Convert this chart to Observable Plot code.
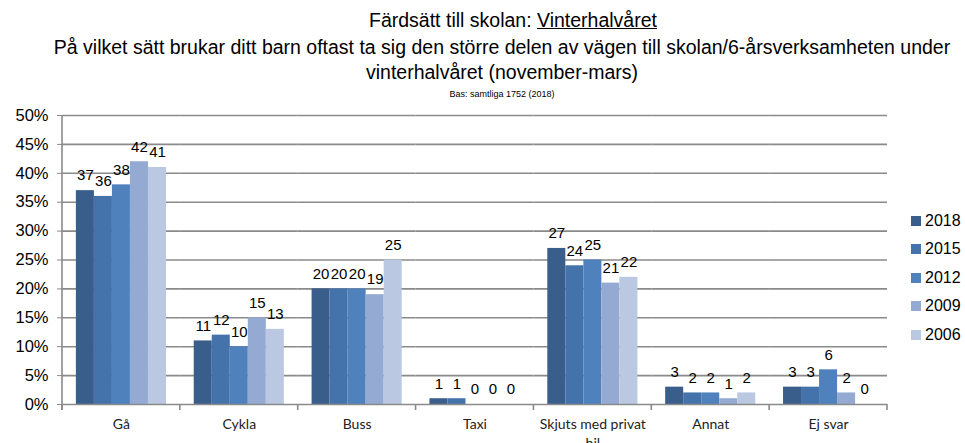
<!DOCTYPE html>
<html><head><meta charset="utf-8">
<script src="https://cdn.jsdelivr.net/npm/d3@7"></script>
<script src="https://cdn.jsdelivr.net/npm/@observablehq/plot@0.6"></script>
<style>
body{margin:0;background:#fff;}
#wrap{position:relative;width:965px;height:443px;overflow:hidden;font-family:"Liberation Sans",Arial,sans-serif;color:#000;}
.tl{position:absolute;left:0;width:1004px;text-align:center;white-space:nowrap;font-size:19.5px;}
#bas{position:absolute;left:0;width:1004px;text-align:center;font-size:9px;top:89px;}
#chart{position:absolute;left:0;top:100px;}
#legend{position:absolute;left:911px;top:212px;font-size:16px;}
#legend .row{position:absolute;left:0;white-space:nowrap;height:18px;line-height:18px;}
#legend .sw{display:inline-block;width:10px;height:10px;margin-right:4px;vertical-align:0px;}
</style></head>
<body>
<div id="wrap">
  <div class="tl" style="top:9px;padding-left:22px;box-sizing:border-box;">Färdsätt till skolan: <u>Vinterhalvåret</u></div>
  <div class="tl" style="top:36px;">På vilket sätt brukar ditt barn oftast ta sig den större delen av vägen till skolan/6-årsverksamheten under</div>
  <div class="tl" style="top:61px;">vinterhalvåret (november-mars)</div>
  <div id="bas">Bas: samtliga 1752 (2018)</div>
  <div id="chart"></div>
  <div id="legend"></div>
</div>
<script>
const categories = ["Gå", "Cykla", "Buss", "Taxi", "Skjuts med privat bil", "Annat", "Ej svar"];
const categoryLabels = ["Gå", "Cykla", "Buss", "Taxi", "Skjuts med privat\nbil", "Annat", "Ej svar"];
const years = ["2018", "2015", "2012", "2009", "2006"];
const v2018 = [37, 11, 20, 1, 27, 3, 3];
const v2015 = [36, 12, 20, 1, 24, 2, 3];
const v2012 = [38, 10, 20, 0, 25, 2, 6];
const v2009 = [42, 15, 19, 0, 21, 1, 2];
const v2006 = [41, 13, 25, 0, 22, 2, 0];
const yTicks = [0, 5, 10, 15, 20, 25, 30, 35, 40, 45, 50];
const colors = ["#3A5E8C", "#4472AA", "#4F81BD", "#94AAD3", "#BAC8E2"];

const series = [v2018, v2015, v2012, v2009, v2006];
const data = [];
categories.forEach((c, i) => years.forEach((y, j) => data.push({category: c, year: y, value: series[j][i]})));
const labelData = categories.map((c, i) => ({category: c, label: categoryLabels[i]}));

const chart = Plot.plot({
  width: 965,
  height: 343,
  marginTop: 15,
  marginBottom: 39,
  marginLeft: 62,
  marginRight: 78,
  style: {fontFamily: "Liberation Sans, Arial, sans-serif", background: "white", overflow: "visible"},
  fx: {domain: categories, padding: 0, round: false, axis: null, label: null},
  x: {domain: years, paddingInner: 0, paddingOuter: 0.77, round: false, axis: null},
  y: {domain: [0, 50], ticks: yTicks, axis: null},
  color: {domain: years, range: colors},
  marks: [
    Plot.ruleY(yTicks.filter(d => d > 0), {stroke: "#8a8a8a", strokeWidth: 1.6}),
    Plot.barY(data, {fx: "category", x: "year", y: "value", fill: "year", inset: 0}),
    Plot.ruleY([0], {stroke: "#8a8a8a", strokeWidth: 1.6}),
    Plot.text(data, {fx: "category", x: "year", y: "value", text: d => String(d.value), dy: -15, fontSize: 15, fill: "#000"}),
    Plot.text(labelData, {fx: "category", text: "label", frameAnchor: "bottom", dy: 12, lineAnchor: "top", lineHeight: 1.3, fontSize: 14, fontFamily: "Lato, sans-serif", fill: "#222"}),
    Plot.axisY({ticks: yTicks, tickFormat: d => d + "%", label: null, tickSize: 5, tickPadding: 9, fontSize: 16.5, stroke: "#8a8a8a", fill: "#000"})
  ]
});
document.getElementById("chart").appendChild(chart);

// axis lines and category boundary ticks from the library's own scales
const fx = chart.scale("fx");
const ys = chart.scale("y");
const svg = d3.select(chart);
const y0 = ys.apply(0), y50 = ys.apply(50);
const bounds = categories.map(c => fx.apply(c));
bounds.push(fx.apply(categories[categories.length - 1]) + fx.bandwidth);
const g = svg.append("g").attr("stroke", "#8a8a8a").attr("stroke-width", 1.6);
g.append("line").attr("x1", bounds[0]).attr("x2", bounds[0]).attr("y1", y50).attr("y2", y0 + 6);
bounds.forEach(b => g.append("line").attr("x1", b).attr("x2", b).attr("y1", y0).attr("y2", y0 + 6));

const legend = document.getElementById("legend");
years.forEach((y, i) => {
  const r = document.createElement("div");
  r.className = "row";
  r.style.top = (i * 28.4) + "px";
  r.innerHTML = `<span class="sw" style="background:${colors[i]}"></span>${y}`;
  legend.appendChild(r);
});
</script>
</body></html>
